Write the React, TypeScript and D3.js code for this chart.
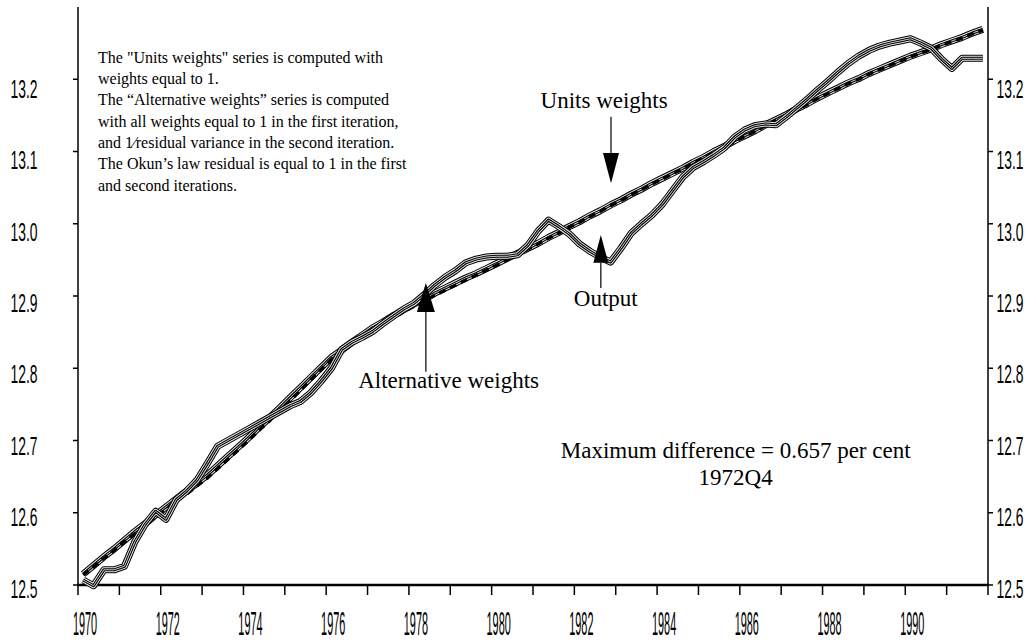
import React from "react";
import * as d3 from "d3";

const START_YEAR = 1970;
const yearTicks = d3.range(1970, 1993, 1);
const yearLabels = d3.range(1970, 1991, 2);
const valueTicks = [12.5, 12.6, 12.7, 12.8, 12.9, 13.0, 13.1, 13.2];
const valueLabels = ["12.5", "12.6", "12.7", "12.8", "12.9", "13.0", "13.1", "13.2"];

const output = [
  12.507, 12.499, 12.521, 12.521,
  12.526, 12.560, 12.584, 12.602,
  12.591, 12.618, 12.630, 12.645,
  12.668, 12.692, 12.700, 12.708,
  12.716, 12.724, 12.732, 12.740,
  12.748, 12.754, 12.766, 12.782,
  12.800, 12.826, 12.836, 12.843,
  12.851, 12.862, 12.872, 12.882,
  12.890, 12.902, 12.915, 12.926,
  12.935, 12.946, 12.951, 12.954,
  12.955, 12.955, 12.957, 12.970,
  12.990, 13.005, 12.996, 12.986,
  12.972, 12.962, 12.954, 12.947,
  12.966, 12.987, 13.000, 13.012,
  13.027, 13.046, 13.065, 13.078,
  13.086, 13.095, 13.105, 13.120,
  13.130, 13.136, 13.138, 13.137,
  13.148, 13.160, 13.172, 13.185,
  13.197, 13.210, 13.222, 13.232,
  13.240, 13.246, 13.250, 13.253,
  13.256, 13.250, 13.243, 13.228,
  13.215, 13.229, 13.229, 13.229,
];

const unitsWeights = [
  12.514, 12.525, 12.537, 12.548,
  12.560, 12.571, 12.582, 12.594,
  12.605, 12.616, 12.626, 12.637,
  12.648, 12.661, 12.674, 12.687,
  12.700, 12.714, 12.727, 12.741,
  12.755, 12.769, 12.784, 12.798,
  12.812, 12.822, 12.833, 12.843,
  12.853, 12.861, 12.870, 12.878,
  12.886, 12.893, 12.901, 12.908,
  12.915, 12.922, 12.929, 12.936,
  12.943, 12.950, 12.958, 12.965,
  12.972, 12.980, 12.987, 12.995,
  13.002, 13.010, 13.017, 13.025,
  13.032, 13.040, 13.047, 13.055,
  13.062, 13.069, 13.076, 13.084,
  13.091, 13.099, 13.106, 13.114,
  13.121, 13.128, 13.136, 13.143,
  13.150, 13.158, 13.165, 13.173,
  13.180, 13.187, 13.194, 13.200,
  13.207, 13.213, 13.219, 13.225,
  13.231, 13.236, 13.241, 13.247,
  13.252, 13.257, 13.263, 13.268,
];

const alternativeWeights = [
  12.515, 12.527, 12.539, 12.550,
  12.562, 12.574, 12.585, 12.597,
  12.608, 12.619, 12.630, 12.641,
  12.652, 12.665, 12.678, 12.691,
  12.704, 12.718, 12.731, 12.745,
  12.759, 12.773, 12.787, 12.801,
  12.815, 12.825, 12.836, 12.846,
  12.856, 12.864, 12.873, 12.881,
  12.889, 12.896, 12.904, 12.911,
  12.918, 12.925, 12.931, 12.938,
  12.945, 12.952, 12.959, 12.966,
  12.973, 12.981, 12.988, 12.996,
  13.003, 13.011, 13.018, 13.026,
  13.033, 13.041, 13.048, 13.056,
  13.063, 13.070, 13.077, 13.085,
  13.092, 13.100, 13.107, 13.115,
  13.122, 13.129, 13.137, 13.144,
  13.151, 13.159, 13.166, 13.174,
  13.181, 13.188, 13.195, 13.201,
  13.208, 13.214, 13.220, 13.226,
  13.232, 13.237, 13.242, 13.248,
  13.253, 13.258, 13.264, 13.269,
];

const noteLines = [
  'The "Units weights" series is computed with',
  "weights equal to 1.",
  "The \u201CAlternative weights\u201D series is computed",
  "with all weights equal to 1 in the first iteration,",
  "and 1\u2044residual variance in the second iteration.",
  "The Okun\u2019s law residual is equal to 1 in the first",
  "and second iterations.",
];

const W = 1031;
const H = 642;

export default function App() {
  const x = d3.scaleLinear().domain([1970, 1992]).range([78, 988]);
  const y = d3.scaleLinear().domain([12.5, 13.3]).range([585, 7]);
  const labelY = d3.scaleLinear().domain([12.5, 13.2]).range([597.5, 98]);
  const t = (i: number) => START_YEAR + i / 4 + 0.125;
  const line = d3
    .line<number>()
    .x((_, i) => x(t(i)))
    .y((d) => y(d))
    .curve(d3.curveLinear);

  const striped = (vals: number[], key: string) => {
    const d = line(vals) || "";
    return (
      <g key={key} fill="none" strokeLinejoin="round" strokeLinecap="butt">
        <path d={d} stroke="#000" strokeWidth={7} />
        <path d={d} stroke="#e6e6e6" strokeWidth={5} />
        <path d={d} stroke="#000" strokeWidth={3} />
        <path d={d} stroke="#d0d0d0" strokeWidth={1} />
      </g>
    );
  };

  const arrowDown = (tx: number, tailV: number, baseV: number, tipV: number, w: number) => {
    const X = x(tx);
    return (
      <g>
        <line x1={X} x2={X} y1={y(tailV)} y2={y(baseV)} stroke="#000" strokeWidth={1.2} />
        <path
          d={`M${X - w / 2},${y(baseV)}L${X + w / 2},${y(baseV)}L${X},${y(tipV)}Z`}
          fill="#000"
        />
      </g>
    );
  };

  const yLabel = (v: number, s: string, cx: number) => (
    <text
      key={s + cx}
      transform={`translate(${cx},${labelY(v)}) scale(0.555,1)`}
      textAnchor="middle"
      fontFamily="'Liberation Sans', Arial, sans-serif"
      fontSize={25}
      fill="#000"
    >
      {s}
    </text>
  );

  return (
    <svg
      width={W}
      height={H}
      style={{ position: "absolute", left: 0, top: 0, background: "#fff" }}
    >
      <rect x={0} y={0} width={W} height={H} fill="#fff" />
      {/* axes */}
      <line x1={x(1970)} x2={x(1970)} y1={y(13.3)} y2={y(12.5)} stroke="#000" strokeWidth={1.5} />
      <line x1={x(1992)} x2={x(1992)} y1={y(13.3)} y2={y(12.5)} stroke="#000" strokeWidth={1.5} />
      <line x1={x(1970) - 1} x2={x(1992) + 1} y1={y(12.5)} y2={y(12.5)} stroke="#000" strokeWidth={2.6} />
      {valueTicks.map((v) => (
        <g key={v}>
          <line x1={x(1970) - 5} x2={x(1970)} y1={y(v)} y2={y(v)} stroke="#000" strokeWidth={1.5} />
          <line x1={x(1992)} x2={x(1992) + 5} y1={y(v)} y2={y(v)} stroke="#000" strokeWidth={1.5} />
        </g>
      ))}
      {yearTicks.map((yr) => (
        <line key={yr} x1={x(yr)} x2={x(yr)} y1={y(12.5)} y2={y(12.5) + 10} stroke="#000" strokeWidth={1.5} />
      ))}
      {valueTicks.map((v, i) => yLabel(v, valueLabels[i], 24))}
      {valueTicks.map((v, i) => yLabel(v, valueLabels[i], 1010))}
      {yearLabels.map((yr) => (
        <text
          key={yr}
          transform={`translate(${x(yr) + 7},634.5) scale(0.34,1.05)`}
          textAnchor="middle"
          fontFamily="'Liberation Sans', Arial, sans-serif"
          fontSize={32}
          fill="#000"
        >
          {yr}
        </text>
      ))}

      {/* series */}
      {striped(alternativeWeights, "alt")}
      <path
        d={line(unitsWeights) || ""}
        fill="none"
        stroke="#000"
        strokeWidth={3.4}
        strokeDasharray="7 5"
      />
      {striped(output, "out")}

      {/* annotations */}
      <g fontFamily="'Liberation Serif', 'Times New Roman', serif" fill="#000">
        {noteLines.map((s, i) => (
          <text key={i} x={98} y={62.7 + i * 21.3} fontSize={16}>
            {s}
          </text>
        ))}
        <text x={x(1982.72)} y={y(13.16)} fontSize={23} textAnchor="middle">
          Units weights
        </text>
        {arrowDown(1982.886, 13.148, 13.098, 13.056, 16)}
        <text x={x(1982.76)} y={y(12.886)} fontSize={23} textAnchor="middle">
          Output
        </text>
        {arrowDown(1982.64, 12.911, 12.946, 12.9844, 15)}
        <text x={x(1978.96)} y={y(12.773)} fontSize={23} textAnchor="middle">
          Alternative weights
        </text>
        {arrowDown(1978.41, 12.795, 12.878, 12.918, 18)}
        <text x={x(1985.9)} y={y(12.676)} fontSize={23} textAnchor="middle">
          Maximum difference = 0.657 per cent
        </text>
        <text x={x(1985.9)} y={y(12.6385)} fontSize={23} textAnchor="middle">
          1972Q4
        </text>
      </g>
    </svg>
  );
}
